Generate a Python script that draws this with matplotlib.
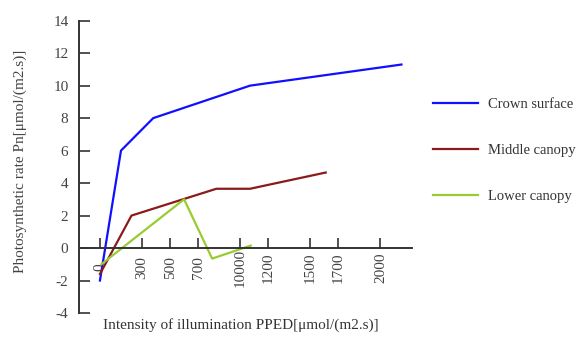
import numpy as np
import matplotlib.pyplot as plt

plt.rcParams['font.family'] = ['Liberation Serif', 'DejaVu Serif']
plt.rcParams['axes.unicode_minus'] = False

# light intensity (PPFD) and net photosynthetic rate for each canopy layer
crown_x = [0, 150, 380, 1070, 2150]
crown_y = [-2.0, 6.0, 8.0, 10.0, 11.3]
middle_x = [0, 225, 830, 1070, 1610]
middle_y = [-1.6, 2.0, 3.65, 3.65, 4.65]
lower_x = [10, 600, 800, 1075]
lower_y = [-1.0, 3.0, -0.65, 0.15]

xticks = [0, 300, 500, 700, 1000, 1200, 1500, 1700, 2000]
xticklabels = ['0', '300', '500', '700', '10000', '1200', '1500', '1700', '2000']
yticks = np.arange(-4, 15, 2)

fig = plt.figure(figsize=(5.76, 3.46), dpi=100)
ax = fig.add_axes([0.137, 0.0954, 0.578, 0.8448])

ax.plot(crown_x, crown_y, '-', color='#1010ff', lw=1.6, label='Crown surface')
ax.plot(middle_x, middle_y, '-', color='#8b1a1a', lw=1.6, label='Middle canopy')
ax.plot(lower_x, lower_y, '-', color='#99cc33', lw=1.6, label='Lower canopy')

ax.set_xlim(-150, 2224)
ax.set_ylim(-4, 14)

ax.spines['top'].set_visible(False)
ax.spines['right'].set_visible(False)
ax.spines['bottom'].set_position(('data', 0))
for s in ('left', 'bottom'):
    ax.spines[s].set_color('#333333')
    ax.spines[s].set_linewidth(1.4)

ax.set_xticks(xticks)
ax.set_xticklabels(xticklabels, rotation=90, va='center')
ax.set_yticks(yticks)
ax.tick_params(axis='both', direction='in', width=1.2,
               color='#333333', labelsize=11, labelcolor='#444444')
ax.tick_params(axis='x', length=7, pad=14)
ax.tick_params(axis='y', length=8, pad=7.5)

fig.text(0.035, 0.535, 'Photosynthetic rate Pn[\u03bcmol/(m2.s)]', rotation=90,
         ha='center', va='center', fontsize=11, color='#444444')
fig.text(0.418, 0.06, 'Intensity of illumination PPED[\u03bcmol/(m2.s)]',
         ha='center', va='center', fontsize=11, color='#333333')

fig.legend(loc='upper left', bbox_to_anchor=(0.751, 0.717), frameon=False,
           fontsize=10.5, handlelength=3.1, labelspacing=2.26, handletextpad=0.7,
           borderaxespad=0, borderpad=0, labelcolor='#333333')

plt.savefig('out.png', dpi=100)
